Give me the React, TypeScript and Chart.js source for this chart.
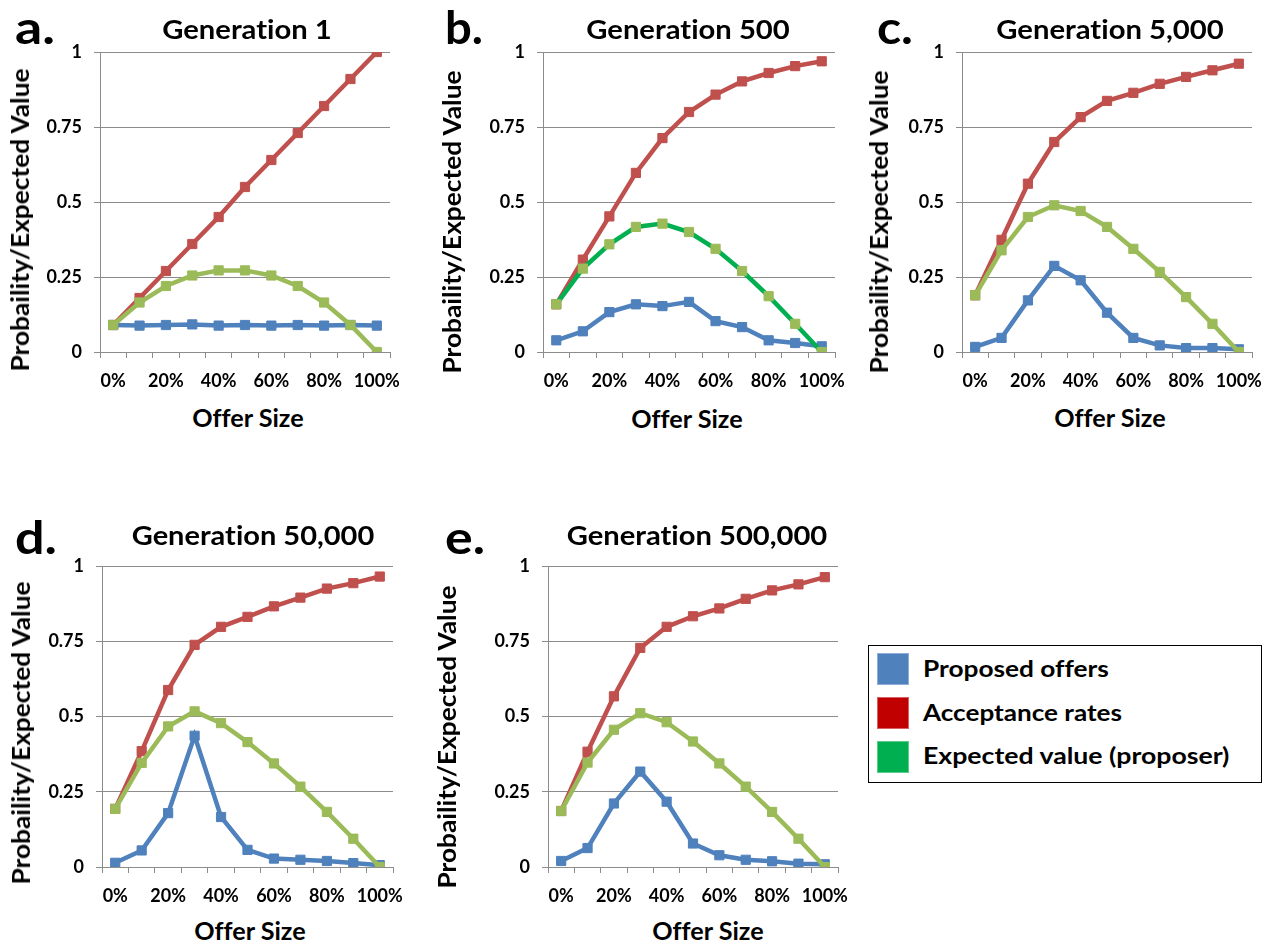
import React, { useEffect, useRef } from "react";
import { Chart, registerables } from "chart.js";
Chart.register(...registerables);

// ---------- data ----------
const offerSizes = ["0%", "10%", "20%", "30%", "40%", "50%", "60%", "70%", "80%", "90%", "100%"];
const xTickLabels = ["0%", "", "20%", "", "40%", "", "60%", "", "80%", "", "100%"];
const yTickValues = [0, 0.25, 0.5, 0.75, 1];
const yTickLabels = ["0", "0.25", "0.5", "0.75", "1"];
const seriesNames = ["Proposed offers", "Acceptance rates", "Expected value (proposer)"];
const panelLetters = ["a.", "b.", "c.", "d.", "e."];
const panelTitles = ["Generation 1", "Generation 500", "Generation 5,000", "Generation 50,000", "Generation 500,000"];
const xAxisTitle = "Offer Size";
const yAxisTitle = "Probaility/Expected Value";

const gen1Proposed = [0.09, 0.088, 0.09, 0.092, 0.088, 0.09, 0.088, 0.09, 0.088, 0.09, 0.088];
const gen1Acceptance = [0.09, 0.18, 0.27, 0.36, 0.45, 0.55, 0.64, 0.73, 0.82, 0.91, 1.0];
const gen1Expected = [0.09, 0.165, 0.22, 0.255, 0.272, 0.272, 0.255, 0.22, 0.165, 0.09, 0];

const gen500Proposed = [0.039, 0.069, 0.133, 0.159, 0.153, 0.167, 0.103, 0.083, 0.039, 0.03, 0.019];
const gen500Acceptance = [0.159, 0.308, 0.452, 0.597, 0.713, 0.8, 0.858, 0.902, 0.93, 0.953, 0.969];
const gen500Expected = [0.159, 0.278, 0.359, 0.417, 0.428, 0.4, 0.344, 0.27, 0.186, 0.094, 0];

const gen5kProposed = [0.017, 0.047, 0.172, 0.287, 0.239, 0.131, 0.047, 0.022, 0.013, 0.013, 0.009];
const gen5kAcceptance = [0.189, 0.374, 0.561, 0.7, 0.783, 0.837, 0.864, 0.894, 0.917, 0.939, 0.961];
const gen5kExpected = [0.189, 0.339, 0.45, 0.489, 0.47, 0.417, 0.344, 0.267, 0.183, 0.094, 0];

const gen50kProposed = [0.014, 0.055, 0.179, 0.436, 0.166, 0.057, 0.028, 0.024, 0.02, 0.013, 0.006];
const gen50kAcceptance = [0.193, 0.385, 0.588, 0.738, 0.798, 0.831, 0.866, 0.895, 0.925, 0.943, 0.965];
const gen50kExpected = [0.193, 0.346, 0.467, 0.517, 0.478, 0.415, 0.344, 0.267, 0.183, 0.094, 0];

const gen500kProposed = [0.02, 0.063, 0.211, 0.317, 0.217, 0.078, 0.039, 0.024, 0.019, 0.011, 0.009];
const gen500kAcceptance = [0.186, 0.383, 0.567, 0.728, 0.798, 0.833, 0.859, 0.891, 0.919, 0.939, 0.963];
const gen500kExpected = [0.186, 0.347, 0.456, 0.511, 0.481, 0.417, 0.344, 0.267, 0.183, 0.094, 0];

const proposedSeries = [gen1Proposed, gen500Proposed, gen5kProposed, gen50kProposed, gen500kProposed];
const acceptanceSeries = [gen1Acceptance, gen500Acceptance, gen5kAcceptance, gen50kAcceptance, gen500kAcceptance];
const expectedSeries = [gen1Expected, gen500Expected, gen5kExpected, gen50kExpected, gen500kExpected];

// ---------- styles ----------
const BLUE = "#4F81BD";
const RED = "#C0504D";
const OLIVE = "#9BBB59";
const BRIGHT_GREEN = "#00B050";
const GRID = "#8C8C8C";
const legendColors = ["#4F81BD", "#C00000", "#00B050"];
const legendBorders = ["#8FAEDA", "#D96060", "#5CCB8C"];
const FONT = "Lato, 'Open Sans', sans-serif";

const YW = 70;
const PADT = 30;
const PADR = 30;
const XH = 44;

type Layout = {
  l: number; t: number; r: number; b: number;
  letterX: number; letterBase: number; letterW: number;
  titleX: number; titleBase: number; titleW: number;
  xtX: number; xtBase: number;
  ytX: number; ytY: number;
  expectedLine: string;
};

const layouts: Layout[] = [
  { l: 100, t: 52, r: 390, b: 352, letterX: 15, letterBase: 45, letterW: 40, titleX: 247, titleBase: 39, titleW: 170, xtX: 248, xtBase: 427, ytX: 20, ytY: 220, expectedLine: OLIVE },
  { l: 543, t: 52, r: 835, b: 352, letterX: 445, letterBase: 45, letterW: 38, titleX: 688, titleBase: 39, titleW: 204, xtX: 687, xtBase: 428, ytX: 452, ytY: 222, expectedLine: BRIGHT_GREEN },
  { l: 962, t: 52, r: 1252, b: 352, letterX: 877, letterBase: 45, letterW: 36, titleX: 1110, titleBase: 39, titleW: 228, xtX: 1110, xtBase: 427, ytX: 879, ytY: 222, expectedLine: OLIVE },
  { l: 102, t: 566, r: 393, b: 867, letterX: 15, letterBase: 555, letterW: 42, titleX: 253, titleBase: 545, titleW: 243, xtX: 250, xtBase: 940, ytX: 21, ytY: 733, expectedLine: OLIVE },
  { l: 547.5, t: 566, r: 837.5, b: 867, letterX: 445, letterBase: 555, letterW: 40, titleX: 697, titleBase: 545, titleW: 261, xtX: 708, xtBase: 940, ytX: 447, ytY: 737, expectedLine: OLIVE },
];

const ASC = 0.887; // baseline offset for line-height:1 (Lato)

let measureCtx: CanvasRenderingContext2D | null = null;
function measure(text: string, size: number): number {
  if (!measureCtx) measureCtx = document.createElement("canvas").getContext("2d");
  measureCtx!.font = `bold ${size}px ${FONT}`;
  return measureCtx!.measureText(text).width;
}

function Txt(props: { x: number; base: number; size: number; w: number; center?: boolean; text: string }) {
  const { x, base, size, w, center, text } = props;
  const s = w / Math.max(1, measure(text, size));
  return (
    <div
      style={{
        position: "absolute",
        left: x,
        top: base - ASC * size,
        transform: center ? `translateX(-50%) scaleX(${s})` : `scaleX(${s})`,
        transformOrigin: center ? "50% 50%" : "0 50%",
        fontFamily: FONT,
        fontWeight: 700,
        fontSize: size,
        lineHeight: 1,
        whiteSpace: "nowrap",
        fontVariantLigatures: "none",
        color: "#000",
      }}
    >
      {text}
    </div>
  );
}

function Panel({ idx }: { idx: number }) {
  const ref = useRef<HTMLCanvasElement>(null);
  const L = layouts[idx];
  const w = L.r - L.l + YW + PADR;
  const h = L.b - L.t + PADT + XH;

  useEffect(() => {
    const ctx = ref.current!.getContext("2d")!;
    const mk = (label: string, data: number[], line: string, marker: string, order: number) => ({
      label,
      data,
      borderColor: line,
      backgroundColor: marker,
      pointBackgroundColor: marker,
      pointBorderColor: marker,
      borderWidth: 4.5,
      pointStyle: "rect" as const,
      pointRadius: 6.5,
      pointBorderWidth: 1,
      tension: 0,
      order,
    });
    const tickFont = { family: FONT, weight: "bold" as const, size: 18 };
    const chart = new Chart(ctx, {
      type: "line",
      data: {
        labels: offerSizes,
        datasets: [
          mk(seriesNames[0], proposedSeries[idx], BLUE, BLUE, 3),
          mk(seriesNames[1], acceptanceSeries[idx], RED, RED, 2),
          mk(seriesNames[2], expectedSeries[idx], L.expectedLine, OLIVE, 1),
        ],
      },
      options: {
        responsive: false,
        animation: false,
        events: [],
        layout: { padding: { top: PADT, right: PADR, left: 0, bottom: 0 } },
        plugins: { legend: { display: false }, tooltip: { enabled: false }, title: { display: false } },
        scales: {
          x: {
            type: "category",
            offset: true,
            grid: { offset: true, drawOnChartArea: false, drawTicks: true, tickLength: 6, color: GRID, lineWidth: 1 },
            border: { display: true, color: GRID, width: 1 },
            ticks: {
              autoSkip: false,
              maxRotation: 0,
              minRotation: 0,
              padding: 12,
              color: "#000",
              font: tickFont,
              callback: (_v: any, i: number) => xTickLabels[i],
            },
            afterFit: (s: any) => { s.height = XH; },
          },
          y: {
            type: "linear",
            min: 0,
            max: 1,
            grid: { color: GRID, tickLength: 6, lineWidth: 1 },
            border: { display: true, color: GRID, width: 1 },
            ticks: {
              stepSize: 0.25,
              padding: 12,
              color: "#000",
              font: tickFont,
              callback: (v: any) => {
                const k = yTickValues.indexOf(Number(v));
                return k >= 0 ? yTickLabels[k] : "";
              },
            },
            afterFit: (s: any) => { s.width = YW; },
          },
        },
      },
    } as any);
    return () => chart.destroy();
  }, [idx]);

  const ytScale = 304 / Math.max(1, measure(yAxisTitle, 24));

  return (
    <>
      <canvas
        ref={ref}
        width={w}
        height={h}
        style={{ position: "absolute", left: L.l - YW, top: L.t - PADT, width: w, height: h }}
      />
      <Txt x={L.letterX} base={L.letterBase} size={46} w={L.letterW} text={panelLetters[idx]} />
      <Txt x={L.titleX} base={L.titleBase} size={26} w={L.titleW} center text={panelTitles[idx]} />
      <Txt x={L.xtX} base={L.xtBase} size={24} w={111} center text={xAxisTitle} />
      <div
        style={{
          position: "absolute",
          left: L.ytX,
          top: L.ytY,
          transform: `translate(-50%, -50%) rotate(-90deg) scaleX(${ytScale})`,
          fontFamily: FONT,
          fontWeight: 700,
          fontSize: 24,
          lineHeight: 1,
          whiteSpace: "nowrap",
          fontVariantLigatures: "none",
          color: "#000",
        }}
      >
        {yAxisTitle}
      </div>
    </>
  );
}

const legendTops = [653, 697, 741];
const legendBases = [677.5, 721.5, 765];
const legendTextW = [185, 199, 307];

export default function App() {
  return (
    <div style={{ position: "absolute", left: 0, top: 0, width: 1264, height: 947, background: "#fff", overflow: "hidden" }}>
      {layouts.map((_, i) => (
        <Panel key={i} idx={i} />
      ))}
      <div
        style={{
          position: "absolute",
          left: 868,
          top: 645,
          width: 394,
          height: 138,
          boxSizing: "border-box",
          border: "1.5px solid #000",
        }}
      />
      {seriesNames.map((name, i) => (
        <React.Fragment key={name}>
          <div
            style={{
              position: "absolute",
              left: 877,
              top: legendTops[i],
              width: 32,
              height: 32,
              boxSizing: "border-box",
              background: legendColors[i],
              border: `1px solid ${legendBorders[i]}`,
            }}
          />
          <Txt x={923} base={legendBases[i]} size={22.5} w={legendTextW[i]} text={name} />
        </React.Fragment>
      ))}
    </div>
  );
}
